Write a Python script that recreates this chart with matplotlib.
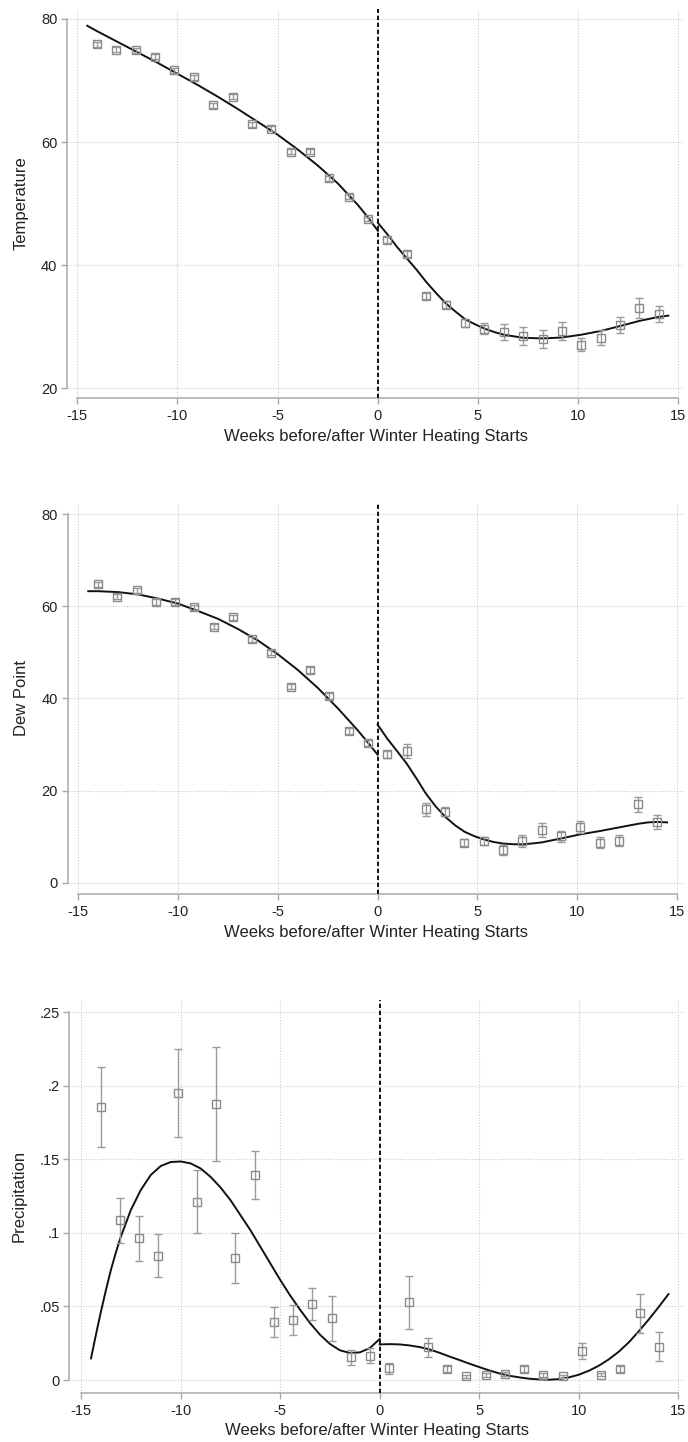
import matplotlib
matplotlib.use("Agg")
import matplotlib.pyplot as plt
import numpy as np

plt.rcParams['font.family'] = ['Liberation Sans', 'DejaVu Sans']

# ---------------- data ----------------
week_pre = [-14.02, -13.05, -12.08, -11.12, -10.15, -9.18, -8.22, -7.25,
            -6.28, -5.32, -4.35, -3.38, -2.42, -1.45, -0.48]
week_post = [0.48, 1.45, 2.42, 3.38, 4.35, 5.32, 6.28, 7.25,
             8.22, 9.18, 10.15, 11.12, 12.08, 13.05, 14.02]

# Temperature
temp_pre = [75.9, 75.0, 74.9, 73.9, 71.7, 70.5, 66.0, 67.4,
            62.9, 62.2, 58.4, 58.4, 54.1, 51.1, 47.5]
temp_pre_err = [0.4, 0.4, 0.4, 0.4, 0.4, 0.4, 0.4, 0.4,
                0.4, 0.4, 0.4, 0.4, 0.4, 0.4, 0.4]
temp_post = [44.1, 41.8, 35.0, 33.6, 30.6, 29.7, 29.2, 28.5,
             28.0, 29.3, 27.1, 28.2, 30.3, 33.0, 32.1]
temp_post_err = [0.5, 0.5, 0.5, 0.5, 0.7, 0.9, 1.3, 1.5,
                 1.4, 1.5, 1.1, 1.2, 1.3, 1.6, 1.3]
temp_fit_pre_x = [-14.5, -14, -13, -12, -11, -10, -9, -8, -7, -6, -5, -4, -3, -2, -1, -0.5, 0]
temp_fit_pre_y = [78.9, 78.0, 76.3, 74.6, 72.9, 71.1, 69.3, 67.4, 65.4, 63.3,
                  61.2, 58.8, 56.2, 53.3, 49.8, 47.8, 45.6]
temp_fit_post_x = [0, 0.48, 0.95, 1.45, 1.95, 2.41, 2.9, 3.39, 3.9, 4.36, 4.85, 5.32,
                   5.8, 6.29, 7.25, 8.22, 9.18, 10.15, 11.11, 12.08, 13.06, 14.02, 14.5]
temp_fit_post_y = [46.9, 45.0, 43.0, 41.1, 39.2, 37.3, 35.5, 33.8, 32.4, 31.2,
                   30.4, 29.7, 29.15, 28.7, 28.2, 28.1, 28.25, 28.7, 29.3, 30.1,
                   30.95, 31.6, 31.8]

# Dew point
dew_pre = [64.8, 62.1, 63.5, 61.0, 61.0, 59.8, 55.6, 57.6,
           52.85, 49.95, 42.6, 46.2, 40.5, 32.9, 30.3]
dew_pre_err = [0.6, 0.6, 0.6, 0.6, 0.6, 0.6, 0.6, 0.6,
               0.6, 0.6, 0.6, 0.7, 0.7, 0.7, 0.7]
dew_post = [27.9, 28.6, 15.9, 15.4, 8.7, 9.05, 7.1, 9.1,
            11.4, 10.1, 12.15, 8.7, 9.1, 17.0, 13.2]
dew_post_err = [0.8, 1.5, 1.5, 1.0, 0.8, 0.8, 1.0, 1.3,
                1.5, 1.2, 1.3, 1.2, 1.2, 1.6, 1.5]
dew_fit_pre_x = [-14.5, -14, -13, -12, -11, -10, -9, -8, -7, -6, -5, -4, -3, -2, -1, -0.5, 0]
dew_fit_pre_y = [63.3, 63.3, 63.1, 62.6, 61.7, 60.6, 59.0, 57.3, 55.1, 52.6,
                 49.6, 46.2, 42.3, 37.9, 33.1, 30.5, 27.8]
dew_fit_post_x = [0, 0.48, 0.95, 1.45, 1.95, 2.41, 2.9, 3.39, 3.9, 4.36, 4.85, 5.32,
                  5.8, 6.29, 6.8, 7.25, 7.7, 8.22, 9.18, 10.15, 11.11, 12.08, 13.06,
                  13.55, 14.02, 14.5]
dew_fit_post_y = [34.3, 31.3, 28.7, 25.9, 22.6, 19.4, 16.6, 14.3, 12.4, 11.05,
                  10.1, 9.4, 8.85, 8.5, 8.35, 8.35, 8.5, 8.75, 9.6, 10.5, 11.2,
                  12.0, 12.8, 13.1, 13.2, 13.1]

# Precipitation
prec_pre = [0.1856, 0.1085, 0.0963, 0.0845, 0.1950, 0.1212, 0.1879, 0.0829,
            0.1394, 0.0392, 0.0408, 0.0516, 0.0419, 0.0154, 0.0165]
prec_pre_err = [0.027, 0.0155, 0.0155, 0.0145, 0.0298, 0.0215, 0.0387, 0.0172,
                0.0166, 0.0102, 0.0101, 0.0111, 0.0153, 0.0051, 0.0051]
prec_post = [0.0079, 0.0528, 0.0222, 0.0072, 0.0027, 0.0034, 0.0040, 0.0072,
             0.0034, 0.0027, 0.0197, 0.0036, 0.0072, 0.0453, 0.0226]
prec_post_err = [0.0035, 0.018, 0.0063, 0.002, 0.001, 0.0015, 0.0015, 0.002,
                 0.0015, 0.001, 0.0055, 0.001, 0.002, 0.0134, 0.0098]
prec_fit_pre_x = [-14.5, -14.25, -14, -13.75, -13.5, -13.25, -13, -12.5, -12, -11.5,
                  -11, -10.5, -10, -9.5, -9, -8.5, -8, -7.5, -7, -6.5, -6, -5.5,
                  -5, -4.5, -4, -3.5, -3, -2.5, -2, -1.5, -1, -0.5, 0]
prec_fit_pre_y = [0.0147, 0.0310, 0.0466, 0.0612, 0.0749, 0.0868, 0.0975, 0.1156,
                  0.1292, 0.1394, 0.1455, 0.1482, 0.1486, 0.1473, 0.1439, 0.1382,
                  0.1310, 0.1224, 0.1122, 0.1020, 0.0907, 0.0794, 0.0681, 0.0575,
                  0.0478, 0.0387, 0.0308, 0.0245, 0.0202, 0.0184, 0.0188, 0.0217,
                  0.0279]
prec_fit_post_x = [0, 0.5, 1, 1.5, 2, 2.5, 3, 3.5, 4, 4.5, 5, 5.5, 6, 6.5, 7,
                   7.5, 8, 8.5, 9, 9.5, 10, 10.5, 11, 11.5, 12, 12.5, 13, 13.5,
                   14, 14.5]
prec_fit_post_y = [0.0242, 0.0244, 0.0242, 0.0235, 0.0224, 0.0208, 0.0185, 0.0160,
                   0.0136, 0.0111, 0.0088, 0.0065, 0.0045, 0.0029, 0.0018, 0.0009,
                   0.0004, 0.0002, 0.0006, 0.0018, 0.0036, 0.0063, 0.0097, 0.0140,
                   0.0192, 0.0255, 0.0330, 0.0410, 0.0495, 0.0584]

x_ticks = [-15, -10, -5, 0, 5, 10, 15]
x_ticklabels = ['-15', '-10', '-5', '0', '5', '10', '15']
temp_ticks = [20, 40, 60, 80]
temp_ticklabels = ['20', '40', '60', '80']
dew_ticks = [0, 20, 40, 60, 80]
dew_ticklabels = ['0', '20', '40', '60', '80']
prec_ticks = [0, 0.05, 0.1, 0.15, 0.2, 0.25]
prec_ticklabels = ['0', '.05', '.1', '.15', '.2', '.25']
x_label = 'Weeks before/after Winter Heating Starts'

# ---------------- figure ----------------
W, H = 688, 1442
fig = plt.figure(figsize=(W / 100, H / 100), dpi=100)
fig.patch.set_facecolor('white')


def make_axes(left, right, top, bottom):
    return fig.add_axes([left / W, 1 - bottom / H, (right - left) / W, (bottom - top) / H])


panels = [
    dict(box=(67, 684, 9, 398), xlim=(-15.51, 15.28), ylim=(18.42, 81.62),
         yt=temp_ticks, ytl=temp_ticklabels, ylabel='Temperature',
         pre=temp_pre, pre_err=temp_pre_err, post=temp_post, post_err=temp_post_err,
         fpx=temp_fit_pre_x, fpy=temp_fit_pre_y, fqx=temp_fit_post_x, fqy=temp_fit_post_y),
    dict(box=(67.7, 684, 503, 894), xlim=(-15.53, 15.35), ylim=(-2.45, 82.45),
         yt=dew_ticks, ytl=dew_ticklabels, ylabel='Dew Point',
         pre=dew_pre, pre_err=dew_pre_err, post=dew_post, post_err=dew_post_err,
         fpx=dew_fit_pre_x, fpy=dew_fit_pre_y, fqx=dew_fit_post_x, fqy=dew_fit_post_y),
    dict(box=(69.3, 684, 1000, 1392.7), xlim=(-15.59, 15.28), ylim=(-0.00863, 0.2584),
         yt=prec_ticks, ytl=prec_ticklabels, ylabel='Precipitation',
         pre=prec_pre, pre_err=prec_pre_err, post=prec_post, post_err=prec_post_err,
         fpx=prec_fit_pre_x, fpy=prec_fit_pre_y, fqx=prec_fit_post_x, fqy=prec_fit_post_y),
]

grey_mark = '#8a8a8a'
grey_err = '#9a9a9a'
axis_col = '#a8a8a8'

for p in panels:
    ax = make_axes(*p['box'])
    ax.set_xlim(*p['xlim'])
    ax.set_ylim(*p['ylim'])
    ax.set_facecolor('white')

    ax.set_xticks(x_ticks)
    ax.set_xticklabels(x_ticklabels)
    ax.set_yticks(p['yt'])
    ax.set_yticklabels(p['ytl'])

    ax.grid(True, color='#cccccc', linestyle=(0, (1, 1.5)), linewidth=0.8)
    ax.set_axisbelow(True)

    for s in ('top', 'right'):
        ax.spines[s].set_visible(False)
    for s in ('left', 'bottom'):
        ax.spines[s].set_color(axis_col)
        ax.spines[s].set_linewidth(1.1)
    ax.spines['bottom'].set_bounds(x_ticks[0], x_ticks[-1])
    ax.spines['left'].set_bounds(p['yt'][0], p['yt'][-1])

    ax.tick_params(axis='both', colors=axis_col, length=4, width=1.0,
                   labelcolor='#222222', labelsize=10.5)
    ax.tick_params(axis='x', pad=4)
    ax.tick_params(axis='y', pad=3)

    ax.set_xlabel(x_label, fontsize=12, color='#222222', labelpad=4)
    ax.set_ylabel(p['ylabel'], fontsize=12, color='#222222', labelpad=9)

    # vertical dashed line at 0
    ax.axvline(0, color='#111111', linestyle=(0, (2.2, 1.4)), linewidth=1.4, zorder=3)

    # fitted lines
    ax.plot(p['fpx'], p['fpy'], color='#111111', linewidth=1.4, zorder=4,
            solid_joinstyle='round')
    ax.plot(p['fqx'], p['fqy'], color='#111111', linewidth=1.4, zorder=4,
            solid_joinstyle='round')

    # binned means with CIs
    for xs, ys, es in ((week_pre, p['pre'], p['pre_err']),
                       (week_post, p['post'], p['post_err'])):
        ax.errorbar(xs, ys, yerr=es, fmt='s', markersize=5.5,
                    markerfacecolor='none', markeredgecolor=grey_mark,
                    markeredgewidth=1.0, ecolor=grey_err, elinewidth=1.0,
                    capsize=2.6, capthick=1.0, zorder=5)

fig.savefig('out.png', dpi=100, facecolor='white')
